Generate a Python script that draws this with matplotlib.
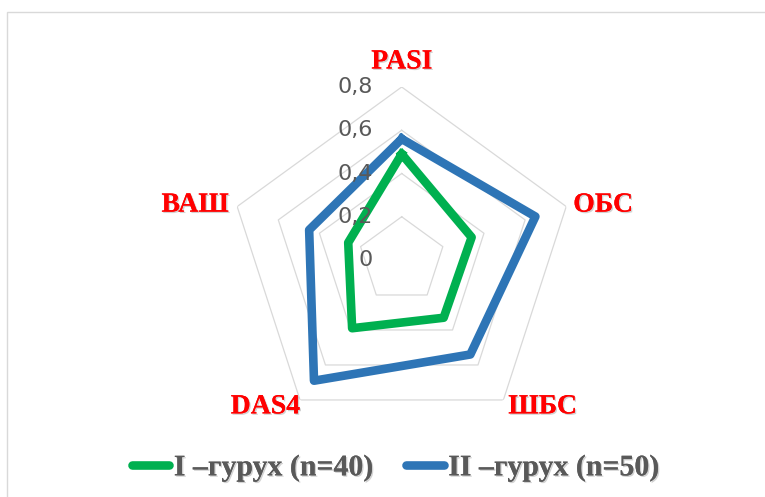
import numpy as np
import matplotlib.pyplot as plt
import matplotlib.patheffects as pe
from matplotlib.lines import Line2D
from matplotlib.patches import Rectangle

# Radar chart data
categories = ['PASI', 'ОБС', 'ШБС', 'DAS4', 'ВАШ']
group1 = [0.49, 0.34, 0.33, 0.39, 0.26]
group2 = [0.56, 0.65, 0.54, 0.69, 0.45]
group_names = ['I –гурух (n=40)', 'II –гурух (n=50)']
r_ticks = [0, 0.2, 0.4, 0.6, 0.8]
r_tick_labels = ['0', '0,2', '0,4', '0,6', '0,8']

W, H = 765, 497
fig = plt.figure(figsize=(W / 100, H / 100), dpi=100)

# outer chart border
fig.patches.append(Rectangle((7 / W, -0.1), 1.2, (H - 11.5) / H + 0.1,
                             transform=fig.transFigure, fill=False,
                             ec='#d9d9d9', lw=1))

cx, cy, R = 401.7, 260, 173
ax = fig.add_axes([(cx - R) / W, (H - cy - R) / H, 2 * R / W, 2 * R / H],
                  projection='polar')
ax.set_theta_offset(np.pi / 2)
ax.set_theta_direction(-1)
ax.set_ylim(0, 0.8)
ax.grid(False)
ax.spines['polar'].set_visible(False)
ax.set_xticks([])
ax.set_yticks([])
ax.patch.set_alpha(0)

angles = np.linspace(0, 2 * np.pi, len(categories), endpoint=False)
closed = np.append(angles, angles[0])

# pentagon gridlines
for r in r_ticks[1:]:
    ax.plot(closed, [r] * len(closed), color='#d9d9d9', lw=0.9, zorder=1)

colors = ['#00b050', '#2e75b6']
for vals, col in zip([group1, group2], colors):
    v = np.append(vals, vals[0])
    ax.plot(closed, v, color=col, lw=6.2, solid_joinstyle='round', zorder=3)

# radial value labels
for r, lab in zip(r_ticks, r_tick_labels):
    ax.annotate(lab, xy=(0, r), xytext=(-21, 0), textcoords='offset points',
                ha='right', va='center', fontsize=16, color='#595959',
                family='DejaVu Sans', zorder=4, annotation_clip=False)

# category labels
shadow = [pe.withSimplePatchShadow(offset=(1, -1), shadow_rgbFace='#808080', alpha=0.35),
          pe.Normal()]
offsets = [((0, 18), 'center'), ((5, 1), 'left'), ((3.5, -5), 'left'),
           ((0, -5), 'right'), ((-6, 1), 'right')]
for ang, lab, (off, ha) in zip(angles, categories, offsets):
    ax.annotate(lab, xy=(ang, 0.8), xytext=off, textcoords='offset points',
                ha=ha, va='center', fontsize=20, fontweight='bold',
                color='#ff0000', family='Liberation Serif',
                path_effects=shadow, annotation_clip=False)

handles = [Line2D([], [], color=c, lw=6.2, solid_capstyle='round') for c in colors]
leg = fig.legend(handles, group_names, loc='center', ncol=2,
                 bbox_to_anchor=(395.5 / W, 1 - 468 / H), frameon=False,
                 handlelength=1.25, handletextpad=0.15, columnspacing=1.12,
                 prop={'family': 'Liberation Serif', 'weight': 'bold', 'size': 21.5})
for t in leg.get_texts():
    t.set_color('#595959')
    t.set_path_effects(shadow)

fig.savefig('out.png', dpi=100, facecolor='white')
